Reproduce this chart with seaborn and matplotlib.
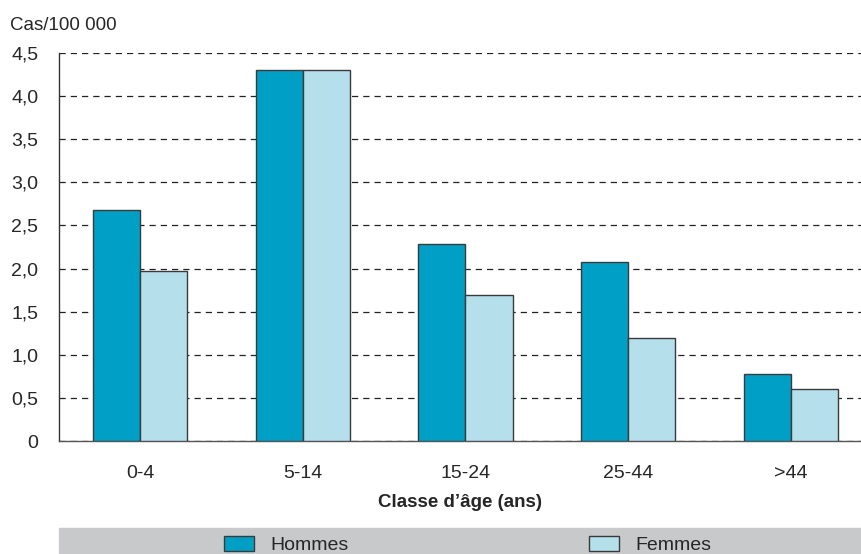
import pandas as pd
import numpy as np
import matplotlib
matplotlib.use('Agg')
import matplotlib.pyplot as plt
import matplotlib.patches as mpatches
from matplotlib.ticker import FixedLocator
import seaborn as sns

# ============================================================
# DATA
# ============================================================

AGES    = ['0-4', '5-14', '15-24', '25-44', '>44']
HOMMES  = [2.68, 4.30, 2.29, 2.08, 0.78]
FEMMES  = [1.97, 4.30, 1.69, 1.20, 0.60]
SEXES   = ['Hommes', 'Femmes']
Y_TICKS = [0, 0.5, 1.0, 1.5, 2.0, 2.5, 3.0, 3.5, 4.0, 4.5]

COLORS = ['#00a0c6', '#b6dfec']

df = pd.DataFrame({
    'age':    AGES * 2,
    'sexe':   [SEXES[0]] * len(AGES) + [SEXES[1]] * len(AGES),
    'valeur': HOMMES + FEMMES,
})

# ============================================================
# STYLE
# ============================================================

sns.set_style('white')
plt.rcParams['font.family'] = ['Liberation Sans Narrow', 'Liberation Sans', 'DejaVu Sans']
FS = 14

W, H = 862, 554
fig = plt.figure(figsize=(W / 100, H / 100), dpi=100)
ax = fig.add_axes([59 / W, 1 - 441 / H, (W - 59) / W, 388 / H])

sns.barplot(
    data=df, x='age', y='valeur', hue='sexe',
    order=AGES, hue_order=SEXES,
    palette=COLORS, saturation=1, width=0.58,
    edgecolor='#3a3a3a', linewidth=1.0, ax=ax, zorder=3,
)

handles, labels = ax.get_legend_handles_labels()
ax.get_legend().remove()

# axes
ax.set_ylim(0, 4.5)
ax.set_xlim(-0.5, -0.5 + (W - 59) / 162.6)
ax.set_yticks(Y_TICKS)
ax.set_yticklabels(['0' if v == 0 else f'{v:.1f}'.replace('.', ',') for v in Y_TICKS],
                   fontsize=FS)
ax.yaxis.grid(True, linestyle=(0, (5, 4)), color='#222222', linewidth=0.9, zorder=0)
ax.set_axisbelow(True)

ax.set_xticks(range(len(AGES)))
ax.set_xticklabels(AGES, fontsize=FS)
ax.xaxis.set_minor_locator(FixedLocator(np.arange(-0.5, len(AGES), 1.0)))
ax.tick_params(axis='x', which='major', length=0, pad=17)
ax.tick_params(axis='x', which='minor', length=9, width=1, color='#555555', direction='out')
ax.tick_params(axis='y', length=5, width=1, color='#333333', direction='out', pad=10)

for s in ['top', 'right']:
    ax.spines[s].set_visible(False)
ax.spines['left'].set_color('#333333')
ax.spines['bottom'].set_color('#555555')
ax.spines['left'].set_linewidth(1.0)
ax.spines['bottom'].set_linewidth(1.0)

ax.set_ylabel('')
ax.set_xlabel("Classe d\u2019âge (ans)", fontsize=13.5, fontweight='bold', labelpad=9)

fig.text(10 / W, 1 - 30 / H, 'Cas/100 000', fontsize=FS - 0.5, ha='left', va='baseline')

# ============================================================
# LEGEND BAND
# ============================================================

band = mpatches.Rectangle((59 / W, 0), (W - 59) / W, 26 / H,
                          transform=fig.transFigure, color='#c8c9cb', zorder=0)
fig.patches.append(band)

for h, lab, x0 in zip(handles, labels, [224, 589]):
    fig.legend([h], [lab], loc='center left', bbox_to_anchor=(x0 / W, 1 - 545 / H),
               frameon=False, fontsize=FS, borderpad=0, borderaxespad=0,
               handlelength=1.55, handleheight=0.85, handletextpad=0.85)

plt.savefig('out.png', dpi=100)
